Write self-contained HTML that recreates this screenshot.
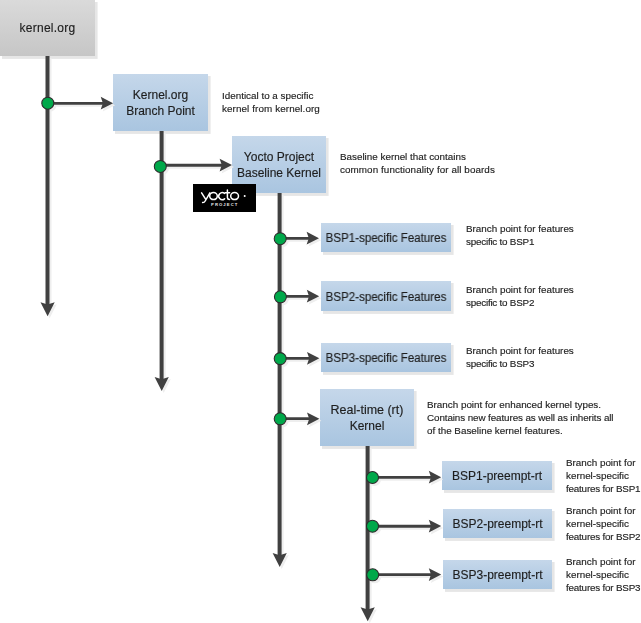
<!DOCTYPE html>
<html><head><meta charset="utf-8">
<style>
html,body{margin:0;padding:0;background:#fff;}
body{width:641px;height:623px;position:relative;overflow:hidden;font-family:"Liberation Sans",sans-serif;color:#1e1e1e;-webkit-text-stroke:0.15px #1e1e1e;}
svg{position:absolute;left:0;top:0;}
.t{position:absolute;will-change:transform;white-space:nowrap;line-height:16px;font-size:12px;text-align:center;}
.d{position:absolute;will-change:transform;white-space:nowrap;line-height:12.8px;font-size:9.85px;}
</style></head><body>
<svg width="641" height="623" viewBox="0 0 641 623">
<defs>
<linearGradient id="gb" x1="0" y1="0" x2="0" y2="1">
<stop offset="0" stop-color="#c5d7ea"/><stop offset="1" stop-color="#a9c5e0"/>
</linearGradient>
<linearGradient id="gg" x1="0" y1="0" x2="0" y2="1">
<stop offset="0" stop-color="#dadada"/><stop offset="1" stop-color="#c6c6c6"/>
</linearGradient>
<filter id="sh" x="-20%" y="-20%" width="140%" height="140%"><feGaussianBlur stdDeviation="0.7"/></filter>
<filter id="sh2" x="-20%" y="-20%" width="140%" height="140%"><feGaussianBlur stdDeviation="0.6"/></filter>
</defs>
<!-- shadows -->
<g fill="#e6e6e6" filter="url(#sh)">
<rect x="2" y="2" width="95.6" height="56.9"/>
<rect x="115" y="76" width="95.6" height="57.9"/>
<rect x="234" y="138" width="94.6" height="57.9"/>
<rect x="323" y="225" width="130.6" height="29.9"/>
<rect x="323" y="283" width="130.6" height="30.9"/>
<rect x="323" y="345" width="130.6" height="29.9"/>
<rect x="322" y="391" width="94.6" height="57.9"/>
<rect x="444" y="463" width="110.6" height="29.9"/>
<rect x="445" y="511" width="109.6" height="29.9"/>
<rect x="445" y="562" width="109.6" height="29.9"/>
</g>
<!-- boxes -->
<rect x="0" y="0" width="95" height="56" fill="url(#gg)"/>
<g fill="url(#gb)">
<rect x="113" y="74" width="95" height="57"/>
<rect x="232" y="136" width="94" height="57"/>
<rect x="321" y="223" width="130" height="29"/>
<rect x="321" y="281" width="130" height="30"/>
<rect x="321" y="343" width="130" height="29"/>
<rect x="320" y="389" width="94" height="57"/>
<rect x="442" y="461" width="110" height="29"/>
<rect x="443" y="509" width="109" height="29"/>
<rect x="443" y="560" width="109" height="29"/>
</g>
<filter id="shc" x="-10%" y="-10%" width="120%" height="120%"><feColorMatrix type="matrix" values="0 0 0 0 0.85  0 0 0 0 0.85  0 0 0 0 0.85  0 0 0 1 0"/><feGaussianBlur stdDeviation="0.6"/></filter>
<use href="#conn" transform="translate(2,2)" filter="url(#shc)"/>
<g id="conn">
<!-- vertical lines -->
<g stroke="#404040" stroke-width="4" fill="none">
<line x1="47.5" y1="56" x2="47.5" y2="309"/>
<line x1="161.6" y1="131" x2="161.6" y2="384"/>
<line x1="279.6" y1="193" x2="279.6" y2="560"/>
<line x1="367.6" y1="446" x2="367.6" y2="615"/>
</g>
<!-- horizontal lines -->
<g stroke="#404040" stroke-width="2.9" fill="none">
<line x1="48" y1="103.4" x2="108" y2="103.4"/>
<line x1="161" y1="165.2" x2="227" y2="165.2"/>
<line x1="280" y1="238.4" x2="314" y2="238.4"/>
<line x1="280" y1="296.4" x2="314" y2="296.4"/>
<line x1="280" y1="358.4" x2="314" y2="358.4"/>
<line x1="280" y1="418.6" x2="314" y2="418.6"/>
<line x1="372" y1="477.4" x2="436" y2="477.4"/>
<line x1="372" y1="526.2" x2="436" y2="526.2"/>
<line x1="372" y1="574.6" x2="436" y2="574.6"/>
</g>
<!-- arrowheads -->
<g fill="#404040">
<path d="M113.1,103.2 L100.7,96.8 L102.9,103.2 L100.7,109.6 Z"/>
<path d="M232,165.1 L219.6,158.7 L221.8,165.1 L219.6,171.5 Z"/>
<path d="M319,238.2 L306.6,231.8 L308.8,238.2 L306.6,244.6 Z"/>
<path d="M319.2,296.2 L306.8,289.8 L309.0,296.2 L306.8,302.6 Z"/>
<path d="M319.4,358.3 L307.0,351.9 L309.2,358.3 L307.0,364.7 Z"/>
<path d="M319.4,418.8 L307.0,412.4 L309.2,418.8 L307.0,425.2 Z"/>
<path d="M441.2,477.2 L428.8,470.8 L431.0,477.2 L428.8,483.6 Z"/>
<path d="M441.2,526.1 L428.8,519.7 L431.0,526.1 L428.8,532.5 Z"/>
<path d="M441.2,574.6 L428.8,568.2 L431.0,574.6 L428.8,581.0 Z"/>
<path d="M47.6,316.2 L40.5,302.2 L47.6,304.5 L54.7,302.2 Z"/>
<path d="M161.7,391 L154.6,377.0 L161.7,379.3 L168.8,377.0 Z"/>
<path d="M279.7,567 L272.6,553.0 L279.7,555.3 L286.8,553.0 Z"/>
<path d="M367.7,621.2 L360.6,607.2 L367.7,609.5 L374.8,607.2 Z"/>
</g>
<!-- circles -->
<g fill="#00a84a" stroke="#2e2a2c" stroke-width="1.05">
<circle cx="47.8" cy="103.2" r="6"/>
<circle cx="160.3" cy="166.4" r="6"/>
<circle cx="280.2" cy="238.7" r="6"/>
<circle cx="280.4" cy="296.8" r="6"/>
<circle cx="280.2" cy="358.6" r="6"/>
<circle cx="280.2" cy="418.8" r="6"/>
<circle cx="372.5" cy="477.5" r="6"/>
<circle cx="372.5" cy="526.2" r="6"/>
<circle cx="372.7" cy="574.8" r="6"/>
</g>
</g>
<!-- yocto logo -->
<rect x="193" y="184" width="63" height="28" fill="#000"/>
<g fill="none" stroke="#fff" stroke-width="1.5" stroke-linecap="round">
<path d="M201.6,192.8 L205.9,199.6 M209.9,192.8 L205.2,201 Q204.2,202.8 202.6,202.6"/>
<ellipse cx="213.5" cy="196.1" rx="3.8" ry="3.5"/>
<path d="M224.6,193.4 A3.6,3.5 0 1 0 224.6,198.8"/>
<path d="M227.4,189.9 L227.4,197.6 Q227.5,199.5 229.6,199.4 M225.2,192.8 L229.6,192.8"/>
<ellipse cx="234.6" cy="196.1" rx="3.9" ry="3.5"/>
</g>
<circle cx="244.7" cy="195.9" r="1" fill="#fff"/>
<text x="211" y="206.3" font-family="Liberation Sans" font-size="4.2" font-weight="bold" fill="#e8e8e8" letter-spacing="1.1">PROJECT</text>
</svg>

<div class="t" style="left:0;top:20px;width:95px;letter-spacing:0.25px">kernel.org</div>
<div class="t" style="left:113px;top:87px;width:95px;">Kernel.org<br>Branch Point</div>
<div class="t" style="left:232px;top:149px;width:94px;">Yocto Project<br>Baseline Kernel</div>
<div class="t" style="left:321px;top:230px;width:130px;transform:scaleX(0.962)">BSP1-specific Features</div>
<div class="t" style="left:321px;top:289px;width:130px;transform:scaleX(0.962)">BSP2-specific Features</div>
<div class="t" style="left:321px;top:350px;width:130px;transform:scaleX(0.962)">BSP3-specific Features</div>
<div class="t" style="left:320px;top:402px;width:94px;"><span style="display:inline-block;transform:scaleX(1.04)">Real-time (rt)</span><br>Kernel</div>
<div class="t" style="left:442px;top:468px;width:110px;">BSP1-preempt-rt</div>
<div class="t" style="left:443px;top:516px;width:109px;">BSP2-preempt-rt</div>
<div class="t" style="left:443px;top:567px;width:109px;">BSP3-preempt-rt</div>

<div class="d" style="left:222px;top:90px;">Identical to a specific<br><span style="letter-spacing:0.1px">kernel from kernel.org</span></div>
<div class="d" style="left:340px;top:151px;">Baseline kernel that contains<br><span style="letter-spacing:0.08px">common functionality for all boards</span></div>
<div class="d" style="left:466px;top:223px;">Branch point for features<br><span style="letter-spacing:-0.22px">specific to BSP1</span></div>
<div class="d" style="left:466px;top:284px;">Branch point for features<br><span style="letter-spacing:-0.22px">specific to BSP2</span></div>
<div class="d" style="left:466px;top:345px;">Branch point for features<br><span style="letter-spacing:-0.22px">specific to BSP3</span></div>
<div class="d" style="left:427px;top:399px;">Branch point for enhanced kernel types.<br><span style="letter-spacing:-0.1px">Contains new features as well as inherits all</span><br>of the Baseline kernel features.</div>
<div class="d" style="left:566px;top:457px;">Branch point for<br>kernel-specific<br><span style="letter-spacing:-0.2px">features for BSP1</span></div>
<div class="d" style="left:566px;top:505px;">Branch point for<br>kernel-specific<br><span style="letter-spacing:-0.2px">features for BSP2</span></div>
<div class="d" style="left:566px;top:556px;">Branch point for<br>kernel-specific<br><span style="letter-spacing:-0.2px">features for BSP3</span></div>
</body></html>
